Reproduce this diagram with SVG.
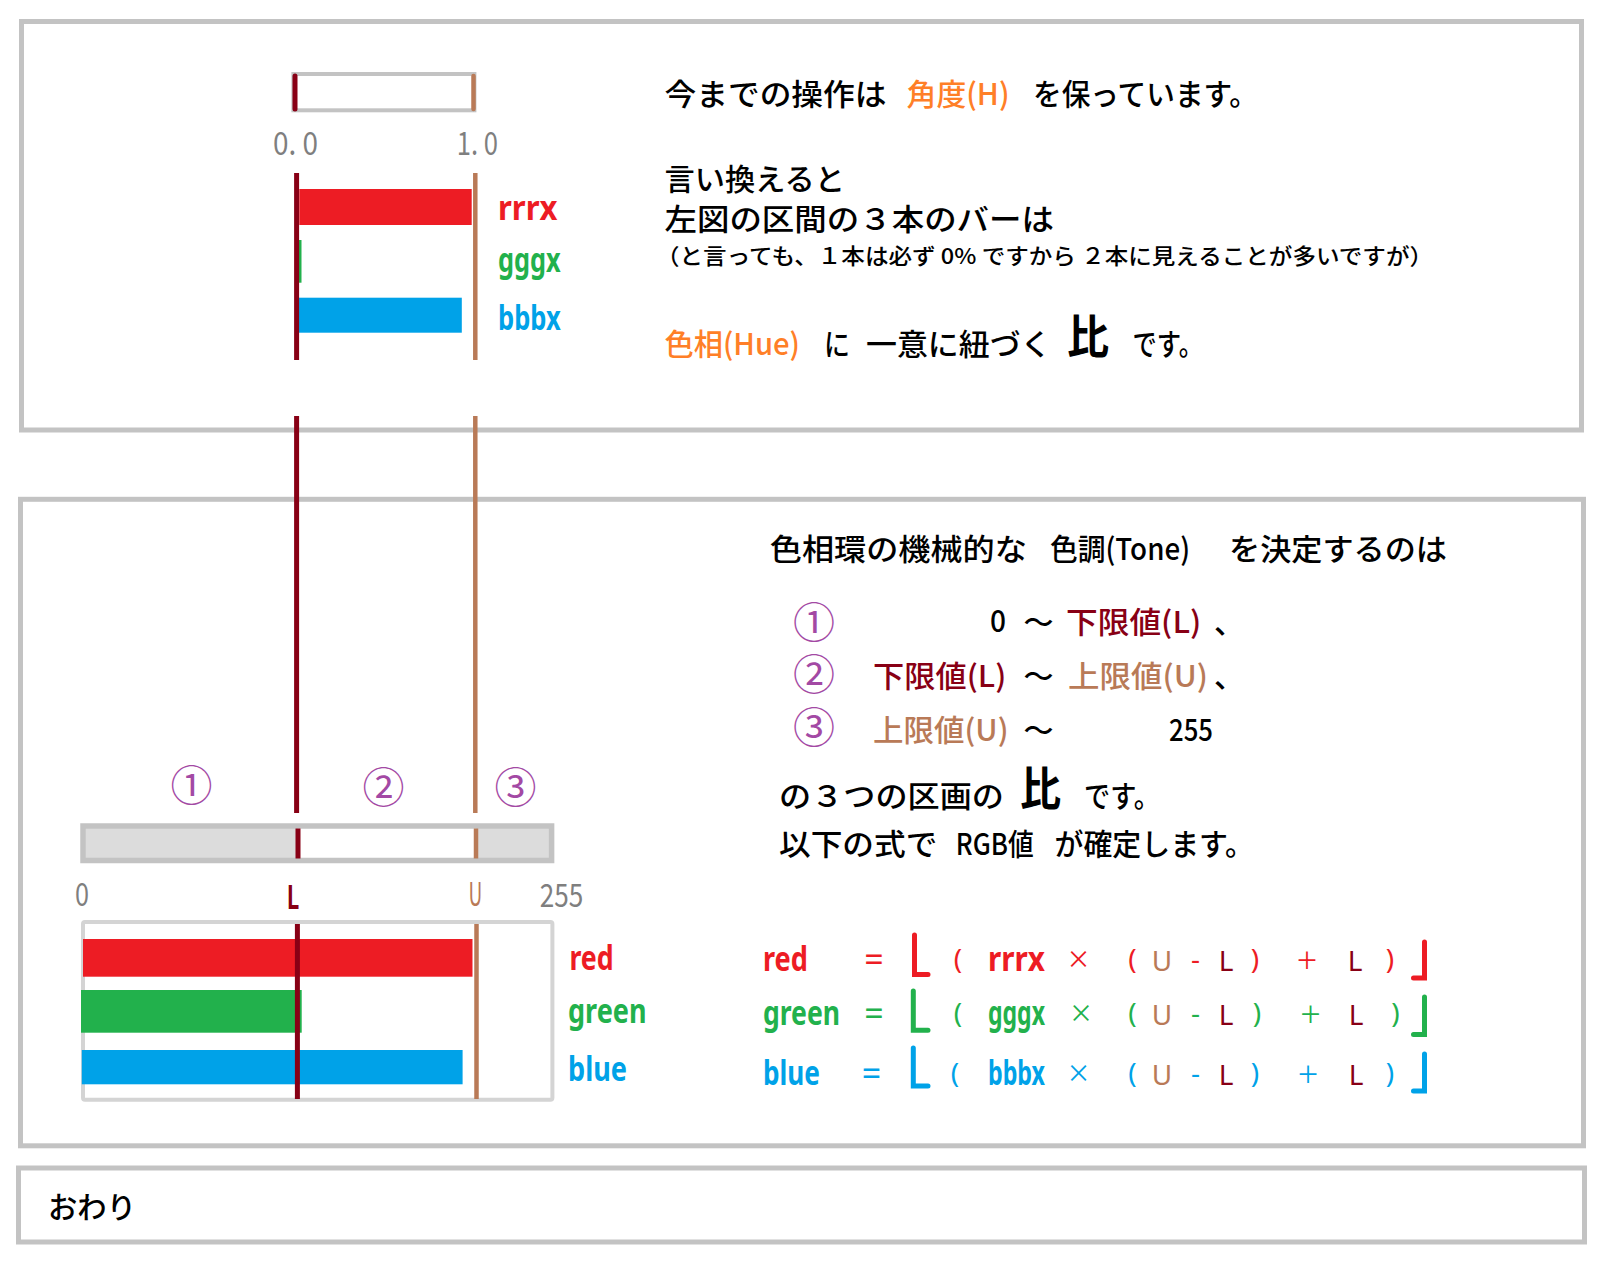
<svg xmlns="http://www.w3.org/2000/svg" width="1604" height="1263" viewBox="0 0 1604 1263">
<style>
.panel{fill:none;stroke:#c3c3c3;stroke-width:5}
.jp{font-family:"Noto Sans CJK JP","Noto Sans",sans-serif;font-size:30px;font-weight:500;fill:#000}
.sm{font-size:22px}
.big{font-size:46px;font-weight:bold}
.lbl{font-family:"Noto Sans","Noto Sans CJK JP",sans-serif;font-weight:bold;font-size:34px}
.op{font-family:"Noto Sans","Noto Sans CJK JP",sans-serif;font-size:28px}
.x{font-size:36px;font-weight:300}
.eq{font-size:34px}
.circ{font-family:"Noto Sans CJK JP",sans-serif;font-size:42px;fill:#a349a4;text-anchor:middle}
.num{font-family:"Noto Sans CJK JP","Noto Sans",sans-serif;font-size:32px;fill:#7f7f7f}
.or{fill:#ff7f27}.dr{fill:#880015}.br{fill:#b97a57}.rd{fill:#ed1c24}.gr{fill:#22b14c}.bl{fill:#00a2e8}
.ldr{stroke:#880015;stroke-width:5;fill:none}
.lbr{stroke:#b97a57;stroke-width:4.5;fill:none}
.brk{fill:none;stroke-width:5;stroke-linecap:round;stroke-linejoin:miter}
</style>
<rect width="1604" height="1263" fill="#fff"/>

<g id="panel-top"><rect class="panel" x="21.5" y="21.5" width="1560" height="408.5"/></g>
<g id="panel-bottom"><rect class="panel" x="20.5" y="499.3" width="1563" height="646.5"/></g>
<g id="panel-end">
<rect class="panel" x="18.5" y="1168" width="1566" height="74"/>
<text class="jp" x="48" y="1218" font-weight="normal" textLength="88" lengthAdjust="spacingAndGlyphs">おわり</text>
</g>

<g id="top-scale">
<rect x="293.4" y="74" width="181" height="36.3" fill="#fff" stroke="#c3c3c3" stroke-width="4"/>
<line class="ldr" x1="295" y1="76" x2="295" y2="109" stroke-width="4" stroke-linecap="round"/>
<line class="lbr" x1="473.5" y1="76" x2="473.5" y2="109" stroke-width="4" stroke-linecap="round"/>
<text class="num" x="273" y="155" textLength="45" lengthAdjust="spacingAndGlyphs">0. 0</text>
<text class="num" x="456.7" y="155" textLength="41.3" lengthAdjust="spacingAndGlyphs">1. 0</text>
</g>

<g id="top-bars">
<rect x="299.3" y="189" width="172.4" height="36" fill="#ed1c24"/>
<rect x="298.5" y="240" width="3" height="42.7" fill="#22b14c"/>
<rect x="298.5" y="297.7" width="163.3" height="35" fill="#00a2e8"/>
<text class="lbl rd" x="498" y="220" textLength="59.5" lengthAdjust="spacingAndGlyphs">rrrx</text>
<text class="lbl gr" x="498" y="272" textLength="62.7" lengthAdjust="spacingAndGlyphs">gggx</text>
<text class="lbl bl" x="498" y="330" textLength="62.7" lengthAdjust="spacingAndGlyphs">bbbx</text>
</g>

<g id="connectors">
<line class="ldr" x1="296.6" y1="173" x2="296.6" y2="360"/>
<line class="lbr" x1="475.3" y1="173" x2="475.3" y2="360"/>
<line class="ldr" x1="296.6" y1="416" x2="296.6" y2="813"/>
<line class="lbr" x1="475.3" y1="416" x2="475.3" y2="813"/>
</g>

<g id="top-text">
<text class="jp" x="664.5" y="105" textLength="222" lengthAdjust="spacingAndGlyphs">今までの操作は</text>
<text class="jp or" x="906.6" y="105" textLength="103" lengthAdjust="spacingAndGlyphs">角度(H)</text>
<text class="jp" x="1033" y="105" textLength="225" lengthAdjust="spacingAndGlyphs">を保っています。</text>
<text class="jp" x="664.5" y="190" textLength="180.5" lengthAdjust="spacingAndGlyphs">言い換えると</text>
<text class="jp" x="664.5" y="230" textLength="389.5" lengthAdjust="spacingAndGlyphs">左図の区間の３本のバーは</text>
<text class="jp sm" x="656" y="264" textLength="777" lengthAdjust="spacingAndGlyphs">（と言っても、１本は必ず 0% ですから ２本に見えることが多いですが）</text>
<text class="jp or" x="664.5" y="355" textLength="135.5" lengthAdjust="spacingAndGlyphs">色相(Hue)</text>
<text class="jp" x="824" y="355" textLength="26" lengthAdjust="spacingAndGlyphs">に</text>
<text class="jp" x="866" y="355" textLength="185.5" lengthAdjust="spacingAndGlyphs">一意に紐づく</text>
<text class="jp big" x="1067" y="353" textLength="42" lengthAdjust="spacingAndGlyphs">比</text>
<text class="jp" x="1132.5" y="355" textLength="70.5" lengthAdjust="spacingAndGlyphs">です。</text>
</g>

<g id="bottom-scale">
<text class="circ" x="191.5" y="801">①</text>
<text class="circ" x="383.5" y="803">②</text>
<text class="circ" x="515.5" y="803">③</text>
<rect x="83" y="826" width="215" height="34.5" fill="#dcdcdc"/>
<rect x="476" y="826" width="75.6" height="34.5" fill="#dcdcdc"/>
<rect x="83" y="826" width="468.6" height="34.5" fill="none" stroke="#c3c3c3" stroke-width="5.5"/>
<line class="ldr" x1="298" y1="828.5" x2="298" y2="858.5"/>
<line class="lbr" x1="476" y1="828.5" x2="476" y2="858.5"/>
<text class="num" x="75" y="906" font-size="30" textLength="14" lengthAdjust="spacingAndGlyphs">0</text>
<text class="num dr" x="286.7" y="909" font-size="30" font-weight="bold" textLength="12.6" lengthAdjust="spacingAndGlyphs">L</text>
<text class="num br" x="468.6" y="905.7" font-size="30" textLength="13.8" lengthAdjust="spacingAndGlyphs">U</text>
<text class="num" x="539.7" y="907" font-size="30" textLength="43.5" lengthAdjust="spacingAndGlyphs">255</text>
</g>

<g id="chart">
<rect x="83" y="922" width="469.4" height="177.7" rx="2" fill="none" stroke="#d4d4d4" stroke-width="4"/>
<rect x="83" y="939" width="389.5" height="37.7" fill="#ed1c24"/>
<rect x="81" y="990" width="220.7" height="42.7" fill="#22b14c"/>
<rect x="81.8" y="1050" width="380.8" height="34.3" fill="#00a2e8"/>
<line class="ldr" x1="297.4" y1="924" x2="297.4" y2="1099"/>
<line class="lbr" x1="476.5" y1="924" x2="476.5" y2="1099"/>
<text class="lbl rd" x="569.4" y="970" textLength="44.3" lengthAdjust="spacingAndGlyphs">red</text>
<text class="lbl gr" x="568" y="1023" textLength="78.5" lengthAdjust="spacingAndGlyphs">green</text>
<text class="lbl bl" x="568" y="1081" textLength="59" lengthAdjust="spacingAndGlyphs">blue</text>
</g>

<g id="bottom-text">
<text class="jp" x="769.8" y="560" textLength="257" lengthAdjust="spacingAndGlyphs">色相環の機械的な</text>
<text class="jp" x="1050" y="560" textLength="140" lengthAdjust="spacingAndGlyphs">色調(Tone)</text>
<text class="jp" x="1229" y="560" textLength="218" lengthAdjust="spacingAndGlyphs">を決定するのは</text>

<text class="circ" x="814" y="638">①</text>
<text class="jp" x="990" y="632" textLength="16" lengthAdjust="spacingAndGlyphs">0</text>
<text class="jp" x="1038.4" y="633" text-anchor="middle">～</text>
<text class="jp dr" x="1066" y="633" textLength="135.4" lengthAdjust="spacingAndGlyphs">下限値(L)</text>
<text class="jp" x="1214" y="633">、</text>

<text class="circ" x="814" y="690">②</text>
<text class="jp dr" x="873" y="687" textLength="133.3" lengthAdjust="spacingAndGlyphs">下限値(L)</text>
<text class="jp" x="1038.4" y="687" text-anchor="middle">～</text>
<text class="jp br" x="1068" y="687" textLength="140" lengthAdjust="spacingAndGlyphs">上限値(U)</text>
<text class="jp" x="1214" y="687">、</text>

<text class="circ" x="814" y="743">③</text>
<text class="jp br" x="873" y="741" textLength="135.6" lengthAdjust="spacingAndGlyphs">上限値(U)</text>
<text class="jp" x="1038.4" y="741" text-anchor="middle">～</text>
<text class="jp" x="1169" y="741" textLength="44" lengthAdjust="spacingAndGlyphs">255</text>

<text class="jp" x="779" y="807" textLength="225" lengthAdjust="spacingAndGlyphs">の３つの区画の</text>
<text class="jp big" x="1020" y="805" textLength="41" lengthAdjust="spacingAndGlyphs">比</text>
<text class="jp" x="1084" y="807" textLength="76" lengthAdjust="spacingAndGlyphs">です。</text>
<text class="jp" x="779" y="855" textLength="158.4" lengthAdjust="spacingAndGlyphs">以下の式で</text>
<text class="jp" x="955.8" y="855" textLength="78" lengthAdjust="spacingAndGlyphs">RGB値</text>
<text class="jp" x="1054.5" y="855" textLength="199.5" lengthAdjust="spacingAndGlyphs">が確定します。</text>
</g>

<g id="formula-red" text-anchor="middle">
<text class="lbl rd" x="763" y="971" text-anchor="start" textLength="45" lengthAdjust="spacingAndGlyphs">red</text>
<text class="op eq rd" x="874" y="972">=</text>
<path class="brk" stroke="#ed1c24" d="M914.5,935 V974.5 H928"/>
<text class="op rd" x="958" y="969">(</text>
<text class="lbl rd" x="988" y="971" text-anchor="start" textLength="57" lengthAdjust="spacingAndGlyphs">rrrx</text>
<text class="op x rd" x="1078.5" y="972">×</text>
<text class="op rd" x="1132.5" y="969">(</text>
<text class="op br" x="1162" y="971">U</text>
<text class="op rd" x="1195.5" y="969">-</text>
<text class="op dr" x="1226" y="971">L</text>
<text class="op rd" x="1255" y="969">)</text>
<text class="op x rd" x="1307" y="973">+</text>
<text class="op dr" x="1355" y="971">L</text>
<text class="op rd" x="1390" y="969">)</text>
<path class="brk" stroke="#ed1c24" d="M1413.5,978 H1424.5 V942"/>
</g>

<g id="formula-green" text-anchor="middle">
<text class="lbl gr" x="763" y="1025" text-anchor="start" textLength="77" lengthAdjust="spacingAndGlyphs">green</text>
<text class="op eq gr" x="874" y="1026">=</text>
<path class="brk" stroke="#22b14c" d="M913.3,991 V1030.3 H928"/>
<text class="op gr" x="958" y="1023">(</text>
<text class="lbl gr" x="988" y="1025" text-anchor="start" textLength="57" lengthAdjust="spacingAndGlyphs">gggx</text>
<text class="op x gr" x="1081" y="1026">×</text>
<text class="op gr" x="1132.5" y="1023">(</text>
<text class="op br" x="1162" y="1025">U</text>
<text class="op gr" x="1195.5" y="1023">-</text>
<text class="op dr" x="1226" y="1025">L</text>
<text class="op gr" x="1257" y="1023">)</text>
<text class="op x gr" x="1310.5" y="1027">+</text>
<text class="op dr" x="1356" y="1025">L</text>
<text class="op gr" x="1395.5" y="1023">)</text>
<path class="brk" stroke="#22b14c" d="M1413.5,1034.5 H1424.5 V997"/>
</g>

<g id="formula-blue" text-anchor="middle">
<text class="lbl bl" x="763" y="1085" text-anchor="start" textLength="57" lengthAdjust="spacingAndGlyphs">blue</text>
<text class="op eq bl" x="871.5" y="1086">=</text>
<path class="brk" stroke="#00a2e8" d="M913.3,1048 V1086 H928"/>
<text class="op bl" x="955" y="1083">(</text>
<text class="lbl bl" x="988" y="1085" text-anchor="start" textLength="57" lengthAdjust="spacingAndGlyphs">bbbx</text>
<text class="op x bl" x="1078.5" y="1086">×</text>
<text class="op bl" x="1132.5" y="1083">(</text>
<text class="op br" x="1162" y="1085">U</text>
<text class="op bl" x="1195.5" y="1083">-</text>
<text class="op dr" x="1226" y="1085">L</text>
<text class="op bl" x="1255" y="1083">)</text>
<text class="op x bl" x="1308" y="1087">+</text>
<text class="op dr" x="1356" y="1085">L</text>
<text class="op bl" x="1390" y="1083">)</text>
<path class="brk" stroke="#00a2e8" d="M1413.5,1091 H1424.5 V1054"/>
</g>
</svg>
